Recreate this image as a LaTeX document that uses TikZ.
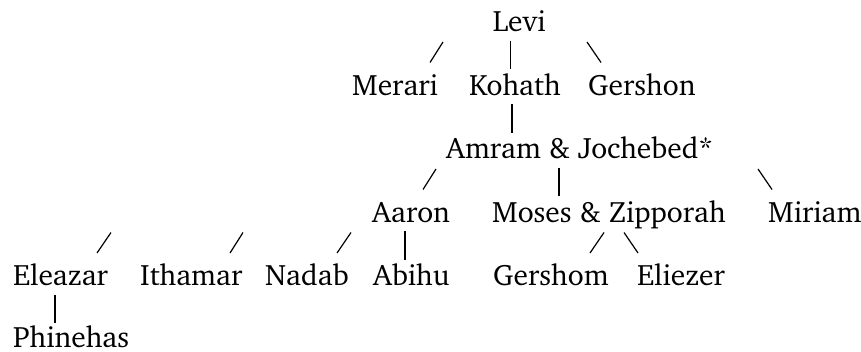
\documentclass[tikz,border=0pt]{standalone}
\usepackage[T1]{fontenc}
\usepackage{charter}
\usepackage{tikz}
\usetikzlibrary{positioning}

\tikzset{
  person/.style={anchor=base west, inner sep=0pt, font=\fontsize{29.5}{30}\selectfont},
  tick/.style={line width=1.2pt}
}

\begin{document}
\begin{tikzpicture}[x=1pt, y=-1pt]
  \useasboundingbox (0,0) rectangle (861,351);
  % names, one row of text at a time
  \node[person] (levi) at (492.7,31.7) {Levi};
  \node[person] (merari) at (352,95.4) {Merari};
  \node[person] (kohath) at (469,95.4) {Kohath};
  \node[person] (gershon) at (588,95.4) {Gershon};
  \node[person] (amram) at (446,158.8) {Amram \& Jochebed*};
  \node[person] (aaron) at (372,222.2) {Aaron};
  \node[person] (moses) at (492,222.2) {Moses \& Zipporah};
  \node[person] (miriam) at (768,222.2) {Miriam};
  \node[person] (eleazar) at (13,285.6) {Eleazar};
  \node[person] (ithamar) at (140,285.6) {Ithamar};
  \node[person] (nadab) at (265,285.6) {Nadab};
  \node[person] (abihu) at (373,285.6) {Abihu};
  \node[person] (gershom) at (493,285.6) {Gershom};
  \node[person] (eliezer) at (637,285.6) {Eliezer};
  \node[person] (phinehas) at (13,347.5) {Phinehas};
  % the little strokes between rows
  \foreach \xa/\ya/\xb/\yb in {
      430/62.5/443/42, 510.7/40.7/510.7/69.3, 587/42/601/62.5,
      512/104/512/132.7,
      423/189.5/436/169, 559/167.5/559/196, 758/169/772/189.5,
      97/253/111/232.5, 230/253/243/232.5, 337/253/351/232.5,
      405/231/405/259.6, 590/253/604/232.5, 624/232.5/638/253,
      55/294.5/55/323}{
    \draw[tick] (\xa,\ya) -- (\xb,\yb);
  }
\end{tikzpicture}
\end{document}
